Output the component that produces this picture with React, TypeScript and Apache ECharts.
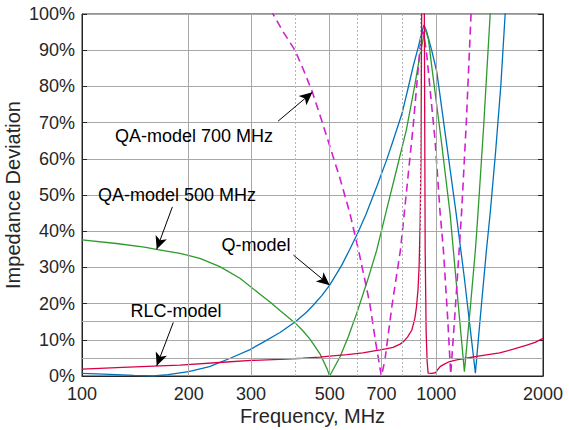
import React, { useEffect, useRef } from "react";
import * as echarts from "echarts";

// ---- axis ticks ----
const FREQ_TICKS = [100, 200, 300, 500, 700, 1000, 2000];
const FREQ_MAJOR_GRID = [200, 300, 500, 700, 1000];
const FREQ_MINOR_GRID = [400, 600, 800, 900];
const DEV_EXTRA_GRID = [5, 15];

// ---- series: [frequency MHz, deviation %] ----
const qModel: [number, number][] = [
  [100, 0.75], [110, 0.6], [125, 0.4], [140, 0.15], [159, 0], [175, 0.4], [200, 1.2],
  [229, 2.6], [262, 4.9], [298, 7.3], [324, 9.3], [362, 12.0], [400, 15.0], [430, 17.6],
  [450, 19.6], [475, 22.2], [500, 25.1], [540, 30.5], [570, 35], [600, 39.5], [632, 44.5],
  [680, 52.5], [724, 59.7], [755, 65], [800, 72.5], [830, 79], [860, 85.5], [890, 91],
  [910, 95], [923, 97], [940, 95], [970, 90], [1003, 84], [1066, 65], [1137, 45],
  [1200, 27], [1250, 12], [1289, 0.8], [1330, 16], [1385, 34.8], [1419, 45], [1470, 62],
  [1520, 80], [1564, 100], [1600, 115],
];

const qa500: [number, number][] = [
  [100, 37.6], [125, 36.6], [150, 35.6], [162, 35.0], [189, 33.9], [215, 32.5], [245, 30.2],
  [279, 27.0], [318, 22.6], [340, 20.4], [362, 18.1], [400, 14.6], [420, 12.5], [440, 10.2],
  [469, 6.2], [492, 1.9], [500, 0], [535, 5.3], [565, 11], [596, 17.3], [640, 26.5],
  [679, 34.8], [720, 45], [770, 56.5], [823, 68], [870, 80.5], [900, 89], [930, 96],
  [950, 93], [971, 85.4], [1032, 65.2], [1093, 45], [1150, 21], [1200, 1.2], [1250, 20],
  [1289, 34.8], [1311, 45], [1360, 69], [1419, 100], [1450, 115],
];

const qa700: [number, number][] = [
  [320, 108], [346, 100], [370, 95], [399, 90], [420, 85], [447, 78.4], [475, 70.5],
  [501, 63.3], [535, 54.5], [570, 45], [603, 34.8], [630, 26], [649, 20], [675, 9],
  [694, 2], [700, 0], [716, 4.4], [749, 19.2], [792, 34.8], [811, 44.5], [860, 68.9],
  [900, 91], [912, 95], [920, 95], [939, 89], [992, 65], [1025, 45], [1047, 34.8],
  [1075, 17], [1098, 0.5], [1130, 18], [1160, 34.8], [1178, 45], [1215, 70], [1253, 100],
  [1280, 115],
];

const rlc: [number, number][] = [
  [100, 1.9], [130, 2.4], [166, 2.8], [189, 3.0], [250, 3.8], [300, 4.3], [362, 4.6],
  [420, 4.9], [469, 5.2], [500, 5.5], [560, 5.9], [620, 6.4], [694, 7.2], [720, 7.5],
  [755, 7.9], [790, 8.8], [808, 9.5], [830, 10.8], [853, 12.7], [870, 16], [879, 19.1],
  [888, 24], [894, 30.2], [900, 42], [905, 60], [909, 100], [913, 150], [920, 150],
  [925, 100], [930, 35], [936, 12], [942, 4], [948, 0.8], [970, 0.7], [995, 0.9],
  [1010, 1.8], [1025, 2.6], [1050, 3.2], [1090, 4.0], [1150, 4.5], [1214, 4.9],
  [1300, 5.4], [1400, 5.9], [1509, 6.4], [1650, 7.4], [1800, 8.5], [1900, 9.3], [2000, 10.4],
];

// ---- annotations: label text, arrow tail and head in data coordinates ----
const ANNOTATION_TEXTS = ["QA-model 700 MHz", "QA-model 500 MHz", "Q-model", "RLC-model"];
const ARROWS: [[number, number], [number, number]][] = [
  [[357.6, 70.4], [447, 78.4]],
  [[179.9, 46.7], [162.5, 35.0]],
  [[395, 33.4], [500, 25.1]],
  [[181, 14.8], [162.5, 2.8]],
];

const FONT = "'Liberation Sans', Arial, Helvetica, sans-serif";
const TEXT_COLOR = "#262626";

export default function App() {
  const ref = useRef<HTMLDivElement>(null);

  useEffect(() => {
    if (!ref.current) return;
    const chart = echarts.init(ref.current, null, { renderer: "svg" });

    const lineSeries = (name: string, data: [number, number][], color: string, dashed = false) => ({
      type: "line",
      name,
      data,
      showSymbol: false,
      symbol: "none",
      clip: true,
      z: 3,
      silent: true,
      lineStyle: {
        color,
        width: dashed ? 1.6 : 1.3,
        type: dashed ? [8, 5] : "solid",
      },
    });

    const labelPos = [
      { x: 194, y: 136 },
      { x: 177, y: 195 },
      { x: 256, y: 245 },
      { x: 176, y: 311 },
    ];

    const option: any = {
      animation: false,
      backgroundColor: "#ffffff",
      grid: {
        left: 82,
        right: 26,
        top: 14,
        bottom: 54,
        containLabel: false,
        outerBoundsMode: "none",
        show: true,
        borderColor: TEXT_COLOR,
        borderWidth: 1,
        backgroundColor: "transparent",
      },
      xAxis: {
        type: "log",
        logBase: 10,
        min: 100,
        max: 2000,
        name: "Frequency, MHz",
        nameLocation: "middle",
        nameGap: 30,
        nameMoveOverlap: false,
        nameTextStyle: { fontSize: 20, fontFamily: FONT, color: TEXT_COLOR },
        axisLine: { show: true, lineStyle: { color: TEXT_COLOR, width: 1 } },
        axisTick: { show: false },
        axisLabel: {
          customValues: FREQ_TICKS,
          fontSize: 18,
          fontFamily: FONT,
          color: TEXT_COLOR,
          margin: 9,
          formatter: (v: number) => String(Math.round(v)),
        },
        splitLine: { show: false },
      },
      yAxis: [
        {
          type: "value",
          min: 0,
          max: 100,
          interval: 10,
          name: "Impedance Deviation",
          nameLocation: "middle",
          nameGap: 59,
          nameMoveOverlap: false,
          nameTextStyle: { fontSize: 20, fontFamily: FONT, color: TEXT_COLOR },
          axisLine: { show: true, lineStyle: { color: TEXT_COLOR, width: 1 } },
          axisTick: { show: true, inside: true, length: 5, lineStyle: { color: TEXT_COLOR } },
          axisLabel: {
            fontSize: 18,
            fontFamily: FONT,
            color: TEXT_COLOR,
            margin: 7,
            formatter: "{value}%",
          },
          splitLine: { show: true, lineStyle: { color: "#a8a8a8", width: 1 } },
        },
        {
          type: "value",
          position: "right",
          min: 0,
          max: 100,
          interval: 10,
          axisLine: { show: true, lineStyle: { color: TEXT_COLOR, width: 1 } },
          axisTick: { show: true, inside: true, length: 5, lineStyle: { color: TEXT_COLOR } },
          axisLabel: { show: false },
          splitLine: { show: false },
        },
      ],
      series: [
        {
          type: "line",
          name: "grid",
          data: [],
          z: 1,
          silent: true,
          markLine: {
            silent: true,
            symbol: "none",
            label: { show: false },
            animation: false,
            data: [
              ...FREQ_MAJOR_GRID.map((f) => ({
                xAxis: f,
                lineStyle: { color: "#a8a8a8", width: 1, type: "solid" },
              })),
              ...FREQ_MINOR_GRID.map((f) => ({
                xAxis: f,
                lineStyle: { color: "#b4b4b4", width: 1, type: [2, 2] },
              })),
              ...DEV_EXTRA_GRID.map((v) => ({
                yAxis: v,
                lineStyle: { color: "#a8a8a8", width: 1, type: "solid" },
              })),
            ],
          },
        },
        lineSeries("Q-model", qModel, "#0072BD"),
        lineSeries("QA-model 500 MHz", qa500, "#2E9A2E"),
        lineSeries("QA-model 700 MHz", qa700, "#D020D0", true),
        lineSeries("RLC-model", rlc, "#D8004A"),
        {
          type: "line",
          name: "arrows",
          data: [],
          z: 5,
          silent: true,
          markLine: {
            silent: true,
            symbol: ["none", "arrow"],
            symbolSize: [9, 13],
            label: { show: false },
            animation: false,
            lineStyle: { color: "#000000", width: 1, type: "solid" },
            data: ARROWS.map(([a, b]) => [{ coord: a }, { coord: b }]),
          },
        },
      ],
      graphic: ANNOTATION_TEXTS.map((t, i) => ({
        type: "text",
        x: labelPos[i].x,
        y: labelPos[i].y,
        z: 10,
        silent: true,
        style: {
          text: t,
          fontSize: 18,
          fontFamily: FONT,
          fill: "#000000",
          align: "center",
          verticalAlign: "middle",
          textAlign: "center",
          textVerticalAlign: "middle",
        },
      })),
    };

    chart.setOption(option);
    return () => chart.dispose();
  }, []);

  return (
    <div
      ref={ref}
      style={{ position: "fixed", left: 0, top: 0, width: 569, height: 430, background: "#fff" }}
    />
  );
}
